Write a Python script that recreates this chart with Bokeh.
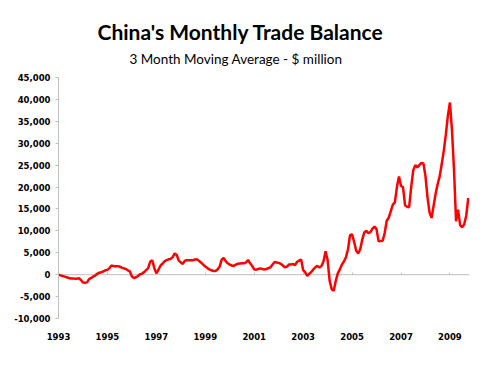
import numpy as np
from bokeh.plotting import figure
from bokeh.models import Title, Span, FixedTicker, NumeralTickFormatter, Range1d
from bokeh.embed import file_html
from bokeh.resources import INLINE

# China's monthly trade balance, 3-month moving average ($ million), Jan 1993 - Oct 2009
start_year = 1993
bal_1993 = [0, -150, -300, -450, -600, -750, -850, -850, -900, -900, -800, -1200]
bal_1994 = [-1800, -1850, -1750, -1000, -750, -450, -200, 200, 450, 550, 750, 1000]
bal_1995 = [1100, 1500, 2100, 1950, 1900, 1950, 1850, 1600, 1450, 1300, 1000, 750]
bal_1996 = [-400, -750, -600, -300, 100, 200, 600, 1050, 1500, 3000, 3300, 1500]
bal_1997 = [300, 1100, 2050, 2500, 3050, 3300, 3500, 3600, 4000, 4850, 4500, 3200]
bal_1998 = [2800, 2450, 3200, 3300, 3300, 3300, 3300, 3450, 3500, 3100, 2750, 2300]
bal_1999 = [1850, 1500, 1200, 1000, 850, 850, 1200, 1800, 3400, 3800, 3100, 2600]
bal_2000 = [2300, 2100, 2000, 2300, 2500, 2550, 2600, 2600, 2800, 3350, 2600, 2000]
bal_2001 = [1200, 1150, 1300, 1450, 1300, 1200, 1300, 1500, 1700, 2300, 2900, 2800]
bal_2002 = [2700, 2500, 2100, 1700, 1800, 2300, 2350, 2450, 2200, 2900, 3200, 3450]
bal_2003 = [1050, 550, -250, 200, 600, 1200, 1700, 2000, 1600, 2000, 3050, 5350]
bal_2004 = [3350, -1400, -3300, -3650, -1400, 300, 1200, 2300, 3000, 4000, 5800, 9000]
bal_2005 = [9200, 7500, 5500, 4850, 5800, 8000, 9650, 10000, 9500, 9700, 10500, 11000]
bal_2006 = [10400, 7600, 7700, 7750, 9500, 12300, 13000, 14500, 16000, 16500, 20000, 22400]
bal_2007 = [20300, 19950, 15800, 15500, 15400, 20000, 23800, 25000, 24500, 25000, 25500, 25400]
bal_2008 = [22500, 17650, 14200, 12950, 15750, 18500, 20700, 22500, 25300, 28300, 32000, 36300]
bal_2009 = [39300, 33000, 24000, 12200, 14850, 11300, 10800, 11500, 13450, 17500]

balance = (bal_1993 + bal_1994 + bal_1995 + bal_1996 + bal_1997 + bal_1998 + bal_1999
           + bal_2000 + bal_2001 + bal_2002 + bal_2003 + bal_2004 + bal_2005 + bal_2006
           + bal_2007 + bal_2008 + bal_2009)

x_ticks = [1993, 1995, 1997, 1999, 2001, 2003, 2005, 2007, 2009]
y_ticks = [-10000, -5000, 0, 5000, 10000, 15000, 20000, 25000, 30000, 35000, 40000, 45000]

years = start_year + np.arange(len(balance)) / 12.0

title_text = "China's Monthly Trade Balance"
subtitle_text = "3 Month Moving Average - $ million"

p = figure(frame_width=411, frame_height=241,
           min_border_left=58, min_border_right=31, min_border_top=77, min_border_bottom=65,
           x_range=Range1d(1993, 2009.8), y_range=Range1d(-10000, 45000),
           output_backend="svg", toolbar_location=None, title=None)
p.outline_line_color = None
p.background_fill_color = "white"
p.border_fill_color = "white"

sub = Title(text=subtitle_text, align="left", offset=71,
            text_font="Lato", text_font_size="13.5px", text_font_style="normal",
            text_color="black", standoff=21)
p.add_layout(sub, "above")
main = Title(text=title_text, align="left", offset=39,
             text_font="Lato", text_font_size="21px", text_font_style="bold",
             text_color="black", standoff=-11)
p.add_layout(main, "above")

zero = Span(location=0, dimension="width", line_color="#BFBFBF", line_width=1, level="underlay")
p.add_layout(zero)

p.line(years, balance, line_color="#FF0000", line_width=2.5)

# y axis
p.yaxis.ticker = FixedTicker(ticks=y_ticks)
p.yaxis.formatter = NumeralTickFormatter(format="0,0")
p.yaxis.axis_line_color = "#BFBFBF"
p.yaxis.axis_line_width = 1
p.yaxis.major_tick_line_color = "#BFBFBF"
p.yaxis.major_tick_out = 3
p.yaxis.major_tick_in = 0
p.yaxis.minor_tick_line_color = None
p.yaxis.major_label_standoff = 5
p.yaxis.major_label_text_font = "DejaVu Sans"
p.yaxis.major_label_text_font_style = "bold"
p.yaxis.major_label_text_font_size = "8.5px"
p.yaxis.major_label_text_color = "black"

# x axis
p.xaxis.ticker = FixedTicker(ticks=x_ticks)
p.xaxis.axis_line_color = None
p.xaxis.major_tick_line_color = None
p.xaxis.minor_tick_line_color = None
p.xaxis.major_label_standoff = 8
p.xaxis.major_label_text_font = "DejaVu Sans"
p.xaxis.major_label_text_font_style = "bold"
p.xaxis.major_label_text_font_size = "8.5px"
p.xaxis.major_label_text_color = "black"

p.ygrid.grid_line_color = None
p.xgrid.ticker = FixedTicker(ticks=x_ticks)
p.xgrid.grid_line_color = "#BFBFBF"
if hasattr(p.xgrid[0], "cross_bounds"):
    p.xgrid.cross_bounds = (0, 500)
else:
    p.xgrid.grid_line_color = None

open("out.html", "w").write(file_html(p, INLINE))
